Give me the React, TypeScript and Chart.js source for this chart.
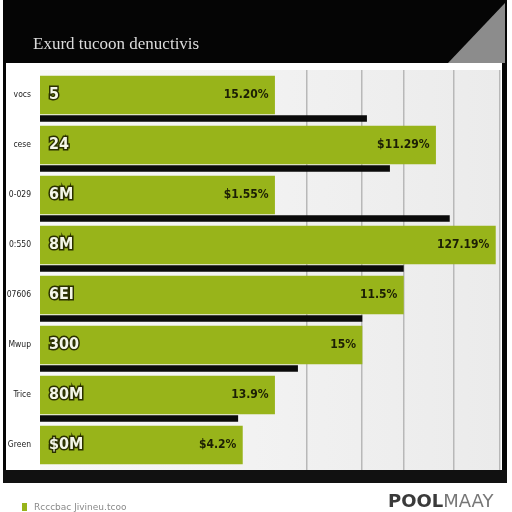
import React, { useEffect, useRef } from "react";
import { Chart, registerables } from "chart.js";

Chart.register(...registerables);

const categories = ["vocs", "cese", "0-029", "0:550", "07606", "Mwup", "Trice", "Green"];
const greenValues = [51, 86, 51, 99, 79, 70, 51, 44];
const blackValues = [71, 76, 89, 79, 70, 56, 43];
const leftLabels = ["5", "24", "6M", "8M", "6El", "300", "80M", "$0M"];
const rightLabels = ["15.20%", "$11.29%", "$1.55%", "127.19%", "11.5%", "15%", "13.9%", "$4.2%"];
const gridValues = [58, 70, 79, 90, 100];
const titleText = "Exurd tucoon denuctivis";
const legendText = "Rcccbac Jivineu.tcoo";
const blackOffset = 0.47;

const GREEN = "#98b41a";
const CONDENSED = "'DejaVu Sans Condensed', 'Liberation Sans Narrow', 'DejaVu Sans', sans-serif";

const framePlugin = {
  id: "frame",
  beforeDraw(chart: any) {
    const ctx = chart.ctx;
    const a = chart.chartArea;
    ctx.save();
    ctx.fillStyle = "#ffffff";
    ctx.fillRect(0, 0, 512, 512);
    ctx.fillStyle = "#050505";
    ctx.fillRect(3, 0, 504, 483);
    ctx.fillStyle = "#8c8c8c";
    ctx.beginPath();
    ctx.moveTo(448, 63);
    ctx.lineTo(505, 3);
    ctx.lineTo(505, 63);
    ctx.closePath();
    ctx.fill();
    ctx.fillStyle = "#ffffff";
    ctx.fillRect(6, 63, 496, 407);
    const g = ctx.createLinearGradient(a.left, 0, a.right, 0);
    g.addColorStop(0, "#f8f8f8");
    g.addColorStop(1, "#ebebeb");
    ctx.fillStyle = g;
    ctx.fillRect(a.left, a.top, a.right - a.left, a.bottom - a.top);
    ctx.fillStyle = "#dcdcdc";
    ctx.font = "17px 'Liberation Serif'";
    ctx.textBaseline = "alphabetic";
    ctx.fillText(titleText, 33, 49);
    ctx.restore();
  },
  afterDraw(chart: any) {
    const ctx = chart.ctx;
    ctx.save();
    ctx.fillStyle = "#111111";
    ctx.fillRect(3, 470, 504, 13);
    ctx.fillStyle = GREEN;
    ctx.fillRect(22, 503, 5, 8);
    ctx.fillStyle = "#8a8a8a";
    ctx.font = "9px 'DejaVu Sans'";
    ctx.fillText(legendText, 34, 510);
    ctx.fillStyle = "#3a3a3a";
    ctx.font = "bold 18px 'DejaVu Sans'";
    ctx.fillText("POOL", 388, 507);
    const w = ctx.measureText("POOL").width;
    ctx.fillStyle = "#777777";
    ctx.font = "18px 'DejaVu Sans'";
    ctx.fillText("MAAY", 388 + w, 507);
    ctx.restore();
  },
};

const labelPlugin = {
  id: "barLabels",
  afterDatasetsDraw(chart: any) {
    const ctx = chart.ctx;
    const meta = chart.getDatasetMeta(0);
    ctx.save();
    ctx.textBaseline = "middle";
    meta.data.forEach((bar: any, i: number) => {
      const left = bar.base;
      ctx.font = "bold 16px " + CONDENSED;
      ctx.textAlign = "left";
      ctx.lineWidth = 3;
      ctx.strokeStyle = "#2a3000";
      ctx.strokeText(leftLabels[i], left + 9, bar.y);
      ctx.fillStyle = "#f4f6e8";
      ctx.fillText(leftLabels[i], left + 9, bar.y);
      ctx.font = "bold 12px " + CONDENSED;
      ctx.textAlign = "right";
      ctx.fillStyle = "#1c1f05";
      ctx.fillText(rightLabels[i], bar.x - 6, bar.y);
    });
    ctx.restore();
  },
};

export default function App() {
  const ref = useRef<HTMLCanvasElement | null>(null);
  useEffect(() => {
    if (!ref.current) return;
    const chart = new Chart(ref.current, {
      type: "bar",
      data: {
        datasets: [
          {
            data: greenValues.map((v, i) => ({ x: v, y: i })),
            backgroundColor: GREEN,
            borderWidth: 0,
            barThickness: 38,
            grouped: false,
          } as any,
          {
            data: blackValues.map((v, i) => ({ x: v, y: i + blackOffset })),
            backgroundColor: "#0a0a0a",
            borderWidth: 0,
            barThickness: 6,
            grouped: false,
          } as any,
        ],
      },
      options: {
        indexAxis: "y",
        responsive: false,
        animation: false,
        layout: { padding: { left: 4, right: 12, top: 70, bottom: 42 } },
        plugins: { legend: { display: false }, tooltip: { enabled: false } },
        scales: {
          x: {
            type: "linear",
            min: 0,
            max: 100,
            afterBuildTicks: (scale: any) => {
              scale.ticks = gridValues.map((v) => ({ value: v }));
            },
            ticks: { display: false },
            grid: { color: "#b8b8b8", lineWidth: 1.5, drawTicks: false },
            border: { display: false },
          },
          y: {
            type: "linear",
            min: -0.5,
            max: 7.5,
            reverse: true,
            offset: false,
            afterBuildTicks: (scale: any) => {
              scale.ticks = categories.map((_, i) => ({ value: i }));
            },
            afterFit: (scale: any) => {
              scale.width = 36;
            },
            ticks: {
              color: "#222222",
              font: { size: 8.5, family: CONDENSED },
              padding: 1,
              callback: (v: any) => categories[v] ?? "",
            },
            grid: { display: false, offset: false },
            border: { display: false },
          },
        },
      } as any,
      plugins: [framePlugin, labelPlugin],
    });
    return () => chart.destroy();
  }, []);
  return (
    <div style={{ position: "fixed", left: 0, top: 0, width: 512, height: 512 }}>
      <canvas ref={ref} width={512} height={512} />
    </div>
  );
}
